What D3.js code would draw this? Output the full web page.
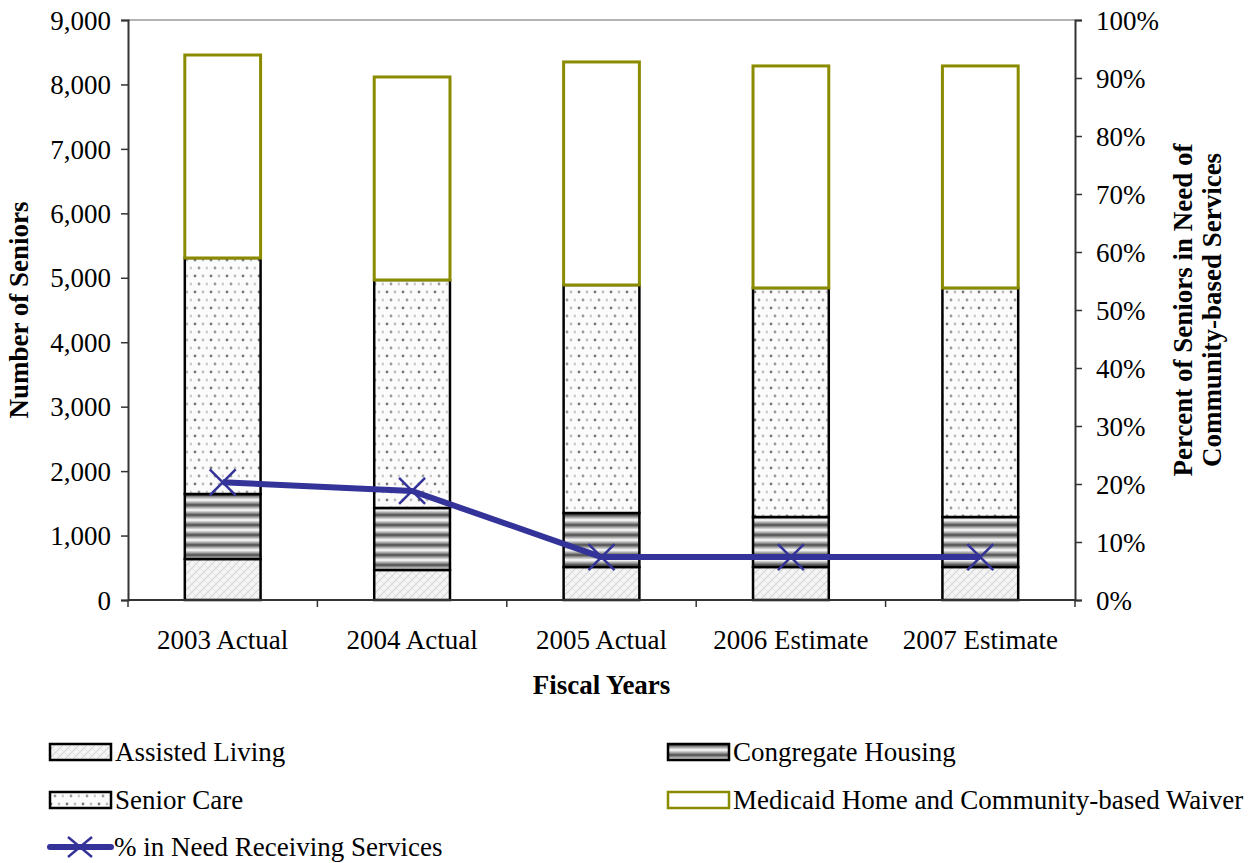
<!DOCTYPE html>
<html>
<head>
<meta charset="utf-8">
<script src="https://cdn.jsdelivr.net/npm/d3@7"></script>
<style>
  body { margin: 0; background: #fff; }
  svg { display: block; font-family: "Liberation Serif", "Times New Roman", serif; }
</style>
</head>
<body>
<svg id="chart" width="1250" height="863"></svg>
<script>
// Fiscal years shown on the category axis
const years = ["2003 Actual", "2004 Actual", "2005 Actual", "2006 Estimate", "2007 Estimate"];

// Number of seniors served, by program
const assistedLiving   = [636, 466, 512, 512, 512];
const congregateHousing = [1009, 962, 838, 776, 776];
const seniorCare       = [3662, 3538, 3538, 3554, 3554];
const medicaidWaiver   = [3150, 3150, 3461, 3445, 3445];

// Share of seniors in need who receive services
const pctReceiving = [0.203, 0.188, 0.074, 0.074, 0.074];

const leftTicks = [0, 1000, 2000, 3000, 4000, 5000, 6000, 7000, 8000, 9000];
const rightTicks = [0, 0.1, 0.2, 0.3, 0.4, 0.5, 0.6, 0.7, 0.8, 0.9, 1.0];

const seriesNames = ["Assisted Living", "Congregate Housing", "Senior Care", "Medicaid Home and Community-based Waiver"];
const lineName = "% in Need Receiving Services";

const FS = 27;
const svg = d3.select("#chart");
const margin = { left: 128, right: 175, top: 20, bottom: 263 };
const W = 1250, H = 863;
const x0 = margin.left, x1 = W - margin.right;
const y0 = H - margin.bottom, y1 = margin.top;

const x = d3.scaleBand().domain(years).range([x0, x1]).paddingInner(0.6).paddingOuter(0.3);
const yL = d3.scaleLinear().domain([0, 9000]).range([y0, y1]);
const yR = d3.scaleLinear().domain([0, 1]).range([y0, y1]);

// ---- fill patterns ----
const defs = svg.append("defs");

// Assisted Living: fine light-grey weave
const pA = defs.append("pattern").attr("id", "pAssisted").attr("patternUnits", "userSpaceOnUse")
  .attr("width", 8).attr("height", 8);
pA.append("rect").attr("width", 8).attr("height", 8).attr("fill", "#f5f5f5");
pA.append("path").attr("d", "M0,8 L8,0 M-2,2 L2,-2 M6,10 L10,6").attr("stroke", "#d6d6d6").attr("stroke-width", 1.2);
pA.append("path").attr("d", "M0,0 L8,8").attr("stroke", "#e2e2e2").attr("stroke-width", 0.9);

// Congregate Housing: shaded horizontal bands
const gC = defs.append("linearGradient").attr("id", "gCong").attr("x1", 0).attr("y1", 0).attr("x2", 0).attr("y2", 1);
[["0%", "#ffffff"], ["30%", "#9a9a9a"], ["50%", "#4a4a4a"], ["70%", "#9a9a9a"], ["100%", "#ffffff"]]
  .forEach(([o, c]) => gC.append("stop").attr("offset", o).attr("stop-color", c));
const pC = defs.append("pattern").attr("id", "pCong").attr("patternUnits", "userSpaceOnUse")
  .attr("width", 10).attr("height", 10);
pC.append("rect").attr("width", 10).attr("height", 10).attr("fill", "url(#gCong)");

// Senior Care: scattered grey dots
const pS = defs.append("pattern").attr("id", "pSenior").attr("patternUnits", "userSpaceOnUse")
  .attr("width", 16).attr("height", 16);
pS.append("rect").attr("width", 16).attr("height", 16).attr("fill", "#fbfbfb");
[[3, 4, "#777"], [11, 4, "#bbb"], [7, 12, "#999"], [15, 12, "#ccc"]].forEach(([cx, cy, c]) =>
  pS.append("circle").attr("cx", cx).attr("cy", cy).attr("r", 1.4).attr("fill", c));

const fills = ["url(#pAssisted)", "url(#pCong)", "url(#pSenior)", "#ffffff"];
const strokes = ["#000", "#000", "#000", "#8b8b00"];

// ---- stacked bars ----
const rows = years.map((yr, i) => ({
  year: yr,
  a: assistedLiving[i], c: congregateHousing[i], s: seniorCare[i], m: medicaidWaiver[i]
}));
const stack = d3.stack().keys(["a", "c", "s", "m"])(rows);

// top plot border
svg.append("line").attr("x1", x0).attr("x2", x1).attr("y1", y1).attr("y2", y1)
  .attr("stroke", "#9a9a9a").attr("stroke-width", 1.5);

stack.forEach((layer, li) => {
  svg.append("g").selectAll("rect").data(layer).join("rect")
    .attr("x", d => x(d.data.year))
    .attr("width", x.bandwidth())
    .attr("y", d => yL(d[1]))
    .attr("height", d => yL(d[0]) - yL(d[1]))
    .attr("fill", fills[li])
    .attr("stroke", strokes[li])
    .attr("stroke-width", li === 3 ? 3 : 2.5);
});

// ---- axes ----
const axisL = svg.append("g").attr("transform", `translate(${x0},0)`)
  .call(d3.axisLeft(yL).tickValues(leftTicks).tickSize(7).tickPadding(10).tickFormat(d3.format(",")));
const axisR = svg.append("g").attr("transform", `translate(${x1},0)`)
  .call(d3.axisRight(yR).tickValues(rightTicks).tickSize(7).tickPadding(14).tickFormat(d3.format(".0%")));
[axisL, axisR].forEach(a => {
  a.attr("font-family", null).attr("font-size", null);
  a.select(".domain").attr("stroke", "#333").attr("stroke-width", 2);
  a.selectAll(".tick line").attr("stroke", "#333").attr("stroke-width", 1.5);
  a.selectAll(".tick text").attr("font-size", FS).attr("fill", "#000").attr("dy", "0.34em");
});

// category axis with ticks between bars
const xb = svg.append("g").attr("transform", `translate(0,${y0})`);
xb.append("line").attr("x1", x0).attr("x2", x1).attr("stroke", "#333").attr("stroke-width", 2);
const bounds = d3.range(years.length + 1).map(i => x0 + i * (x1 - x0) / years.length);
xb.selectAll("line.sep").data(bounds).join("line").attr("class", "sep")
  .attr("x1", d => d).attr("x2", d => d).attr("y1", 0).attr("y2", 7)
  .attr("stroke", "#333").attr("stroke-width", 1.5);
xb.selectAll("text").data(years).join("text")
  .attr("x", d => x(d) + x.bandwidth() / 2).attr("y", 49)
  .attr("text-anchor", "middle").attr("font-size", FS).text(d => d);

// ---- percentage line ----
const linePts = years.map((yr, i) => [x(yr) + x.bandwidth() / 2, yR(pctReceiving[i])]);
svg.append("path").attr("d", d3.line()(linePts))
  .attr("fill", "none").attr("stroke", "#333399").attr("stroke-width", 6).attr("stroke-linejoin", "round");
const xMark = 13;
svg.append("g").selectAll("path").data(linePts).join("path")
  .attr("d", ([cx, cy]) => `M${cx - xMark},${cy - xMark}L${cx + xMark},${cy + xMark}M${cx - xMark},${cy + xMark}L${cx + xMark},${cy - xMark}`)
  .attr("stroke", "#333399").attr("stroke-width", 2.5).attr("fill", "none");

// ---- axis titles ----
svg.append("text").attr("transform", `translate(28,${(y0 + y1) / 2}) rotate(-90)`)
  .attr("text-anchor", "middle").attr("font-weight", "bold").attr("font-size", FS).text("Number of Seniors");
const rt = svg.append("text").attr("transform", `translate(1192,${(y0 + y1) / 2}) rotate(-90)`)
  .attr("text-anchor", "middle").attr("font-weight", "bold").attr("font-size", FS);
rt.append("tspan").attr("x", 0).attr("dy", 0).text("Percent of Seniors in Need of");
rt.append("tspan").attr("x", 0).attr("dy", 29).text("Community-based Services");
svg.append("text").attr("x", (x0 + x1) / 2).attr("y", 694).attr("text-anchor", "middle")
  .attr("font-weight", "bold").attr("font-size", FS).text("Fiscal Years");

// ---- legend ----
const legendPos = [[50, 752], [668, 752], [50, 800], [668, 800]];
seriesNames.forEach((name, i) => {
  const [lx, ly] = legendPos[i];
  svg.append("rect").attr("x", lx).attr("y", ly - 8).attr("width", 61).attr("height", 16)
    .attr("fill", fills[i]).attr("stroke", strokes[i]).attr("stroke-width", 2.5);
  svg.append("text").attr("x", lx + 65).attr("y", ly + 9).attr("font-size", FS).text(name);
});
const ly = 847;
svg.append("line").attr("x1", 50).attr("x2", 111).attr("y1", ly).attr("y2", ly)
  .attr("stroke", "#333399").attr("stroke-width", 6).attr("stroke-linecap", "round");
svg.append("path").attr("d", `M${80 - 12},${ly - 10}L${80 + 12},${ly + 10}M${80 - 12},${ly + 10}L${80 + 12},${ly - 10}`)
  .attr("stroke", "#333399").attr("stroke-width", 2.5);
svg.append("text").attr("x", 114).attr("y", ly + 9).attr("font-size", FS).text(lineName);
</script>
</body>
</html>
